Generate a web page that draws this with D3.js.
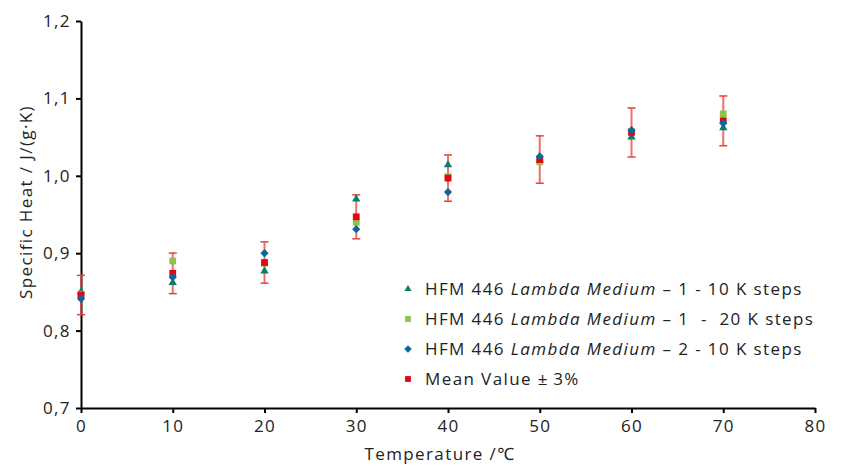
<!DOCTYPE html>
<html>
<head>
<meta charset="utf-8">
<script src="https://cdn.jsdelivr.net/npm/d3@7"></script>
<style>
  body { margin: 0; background: #fff; }
  text { font-family: "Open Sans", "Noto Sans", sans-serif; fill: #222; letter-spacing: 1.4px; }
</style>
</head>
<body>
<div id="chart"></div>
<script>
// data
var temps = [0, 10, 20, 30, 40, 50, 60, 70];
var run1Steps10 = [0.850, 0.862, 0.877, 0.970, 1.014, 1.020, 1.050, 1.062];
var run1Steps20 = [0.847, 0.890, 0.887, 0.940, 0.999, 1.018, 1.057, 1.080];
var run2Steps10 = [0.841, 0.869, 0.900, 0.931, 0.979, 1.025, 1.059, 1.068];
var meanValue   = [0.846, 0.874, 0.888, 0.947, 0.997, 1.021, 1.056, 1.071];
var xTicks = [0, 10, 20, 30, 40, 50, 60, 70, 80];
var yTicks = [0.7, 0.8, 0.9, 1.0, 1.1, 1.2];
var errorPct = 0.03;

var svgWidth = 844, svgHeight = 465,
    margin = {top: 21, right: 29, bottom: 57, left: 81},
    width = svgWidth - margin.left - margin.right,
    height = svgHeight - margin.top - margin.bottom;

var svg = d3.select("#chart").append("svg")
    .attr("width", svgWidth)
    .attr("height", svgHeight);

var g = svg.append("g")
    .attr("transform", "translate(" + margin.left + "," + margin.top + ")");

var x = d3.scaleLinear().domain([0, 80]).range([0, width]);
var y = d3.scaleLinear().domain([0.7, 1.2]).range([height, 0]);

var comma = function(d) { return d3.format(".1f")(d).replace(".", ","); };

// axes
var xAxis = g.append("g")
    .attr("transform", "translate(0," + height + ")")
    .call(d3.axisBottom(x).tickValues(xTicks).tickSize(5).tickSizeOuter(0).tickPadding(7));
var yAxis = g.append("g")
    .call(d3.axisLeft(y).tickValues(yTicks).tickFormat(comma).tickSize(5).tickSizeOuter(0).tickPadding(5));

[xAxis, yAxis].forEach(function(a) {
  a.select(".domain").attr("stroke", "#000").attr("stroke-width", 2);
  a.selectAll(".tick line").attr("stroke", "#000").attr("stroke-width", 2);
  a.selectAll(".tick text").attr("font-size", 17).attr("fill", "#222")
    .attr("font-family", "'Open Sans', 'Noto Sans', sans-serif");
});

// axis titles
g.append("text")
    .attr("x", width / 2 - 8)
    .attr("y", height + 52)
    .attr("text-anchor", "middle")
    .attr("font-size", 17)
    .text("Temperature /\u2103");

g.append("text")
    .attr("transform", "translate(" + (-49) + "," + 181 + ") rotate(-90)")
    .attr("text-anchor", "middle")
    .attr("font-size", 17)
    .text("Specific Heat / J/(g\u00b7K)");

var colors = {
  tri: "#0b7d6b",
  sq: "#8dc44b",
  dia: "#0b689a",
  mean: "#e30613"
};

var means = temps.map(function(t, i) { return {t: t, v: meanValue[i]}; });

// error bars (mean +/- 3 %)
var err = g.append("g").attr("stroke", "#e8403a");
err.selectAll("line.bar").data(means).enter().append("line")
    .attr("class", "bar")
    .attr("x1", function(d) { return x(d.t); })
    .attr("x2", function(d) { return x(d.t); })
    .attr("y1", function(d) { return y(d.v * (1 + errorPct)); })
    .attr("y2", function(d) { return y(d.v * (1 - errorPct)); })
    .attr("stroke-width", 2)
    .attr("stroke-opacity", 0.75);
[1 + errorPct, 1 - errorPct].forEach(function(f) {
  err.selectAll("line.cap" + (f > 1 ? "t" : "b")).data(means).enter().append("line")
      .attr("x1", function(d) { return x(d.t) - 4; })
      .attr("x2", function(d) { return x(d.t) + 4; })
      .attr("y1", function(d) { return y(d.v * f); })
      .attr("y2", function(d) { return y(d.v * f); })
      .attr("stroke-width", 1.5);
});

var triPath = d3.symbol().type(d3.symbolTriangle).size(30)();
var sqPath = d3.symbol().type(d3.symbolSquare).size(46)();
var diaPath = d3.symbol().type(d3.symbolSquare).size(34)();

function drawSeries(values, path, color, rot) {
  g.append("g").selectAll("path")
      .data(values)
      .enter().append("path")
      .attr("d", path)
      .attr("fill", color)
      .attr("transform", function(d, i) {
        return "translate(" + x(temps[i]) + "," + y(d) + ")" + (rot ? " rotate(45)" : "");
      });
}

drawSeries(run1Steps10, triPath, colors.tri, false);
drawSeries(run1Steps20, sqPath, colors.sq, false);
drawSeries(meanValue, sqPath, colors.mean, false);
drawSeries(run2Steps10, diaPath, colors.dia, true);

// legend
var legendItems = [
  {path: d3.symbol().type(d3.symbolTriangle).size(22)(), color: colors.tri, rot: false,
   parts: ["HFM 446 ", "Lambda Medium", " \u2013 1 - 10 K steps"]},
  {path: d3.symbol().type(d3.symbolSquare).size(34)(), color: colors.sq, rot: false,
   parts: ["HFM 446 ", "Lambda Medium", " \u2013 1 \u00a0- \u00a020 K steps"]},
  {path: d3.symbol().type(d3.symbolSquare).size(28)(), color: colors.dia, rot: true,
   parts: ["HFM 446 ", "Lambda Medium", " \u2013 2 - 10 K steps"]},
  {path: d3.symbol().type(d3.symbolSquare).size(34)(), color: colors.mean, rot: false,
   parts: ["Mean Value \u00b1\u20093%"]}
];

var legend = svg.append("g").attr("transform", "translate(408,289)");
var row = legend.selectAll("g").data(legendItems).enter().append("g")
    .attr("transform", function(d, i) { return "translate(0," + (i * 30) + ")"; });
row.append("path")
    .attr("d", function(d) { return d.path; })
    .attr("fill", function(d) { return d.color; })
    .attr("transform", function(d) { return d.rot ? "rotate(45)" : null; });
var lt = row.append("text")
    .attr("x", 17)
    .attr("dy", "0.35em")
    .attr("font-size", 17)
    .style("white-space", "pre");
lt.selectAll("tspan").data(function(d) { return d.parts; }).enter().append("tspan")
    .attr("font-style", function(d, i) { return i === 1 ? "italic" : null; })
    .text(function(d) { return d; });
</script>
</body>
</html>
